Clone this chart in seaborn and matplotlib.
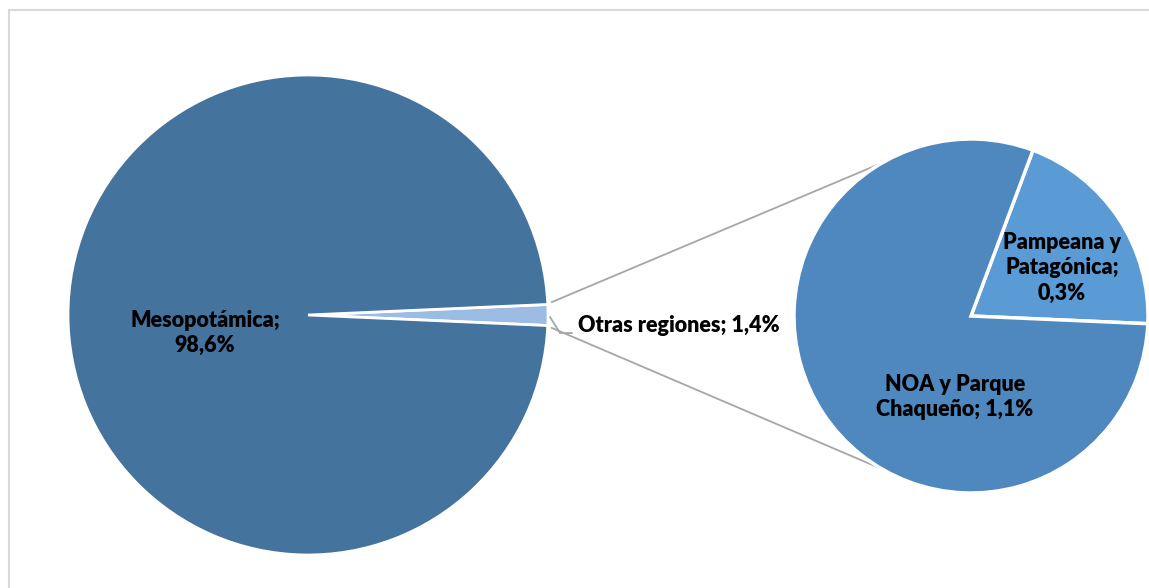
import numpy as np
import seaborn as sns
import matplotlib.pyplot as plt
from matplotlib.patches import Rectangle

sns.set_theme(style="white")
plt.rcParams['font.family'] = ['Lato', 'DejaVu Sans']

# main pie
main_labels = ["Otras regiones", "Mesopotámica"]
main_values = [1.4, 98.6]
main_colors = ["#9DBCE3", "#44739E"]

# breakdown of "Otras regiones"
sub_labels = ["Pampeana y\nPatagónica", "NOA y Parque\nChaqueño"]
sub_values = [0.28, 1.12]
sub_colors = ["#5B9BD5", "#4F88BE"]

W, H = 1149, 588
fig = plt.figure(figsize=(W / 100, H / 100), dpi=100)
ax = fig.add_axes([0, 0, 1, 1])

# chart border (clipped on right / bottom like the original)
fig.patches.append(Rectangle((9, -10), W, H, transform=None,
                             fill=False, edgecolor="#D9D9D9", linewidth=1.5))

c1, r1 = (308, 273), 240
c2, r2 = (971, 272), 177

half = main_values[0] / sum(main_values) * 360 / 2
ax.pie(main_values, colors=main_colors, startangle=-half, counterclock=True,
       center=c1, radius=r1, frame=True,
       wedgeprops=dict(edgecolor="white", linewidth=2))

ax.pie(sub_values, colors=sub_colors, startangle=-2.5, counterclock=True,
       center=c2, radius=r2, frame=True,
       wedgeprops=dict(edgecolor="white", linewidth=2.5))
ax.set_xlim(0, W)
ax.set_ylim(0, H)
ax.set_aspect("equal")
ax.axis("off")

# connector lines between the pies
for sgn, a2 in [(1, 120), (-1, 240)]:
    a1 = np.deg2rad(sgn * (half + 0.5))
    p1 = (c1[0] + (r1 + 4) * np.cos(a1), c1[1] + (r1 + 4) * np.sin(a1))
    p2 = (c2[0] + r2 * np.cos(np.deg2rad(a2)), c2[1] + r2 * np.sin(np.deg2rad(a2)))
    ax.plot([p1[0], p2[0]], [p1[1], p2[1]], color="#A6A6A6", lw=1.3, zorder=0)

# leader line for "Otras regiones"
ax.plot([550, 560, 572], [271, 255, 255], color="#A6A6A6", lw=1.3)

fmt = lambda v: f"{v:.1f}%".replace(".", ",")
fs = 15.5
kw = dict(ha="center", va="center", fontsize=fs, fontweight="heavy",
          color="black", linespacing=1.25)
ax.text(205, 255, f"{main_labels[1]};\n{fmt(main_values[1])}", **kw)
ax.text(679, 262, f"{main_labels[0]}; {fmt(main_values[0])}", **kw)
ax.text(1062, 320, f"{sub_labels[0]};\n{fmt(sub_values[0])}", **kw)
ax.text(955, 191, f"{sub_labels[1]}; {fmt(sub_values[1])}", **kw)

fig.savefig("out.png", dpi=100)
